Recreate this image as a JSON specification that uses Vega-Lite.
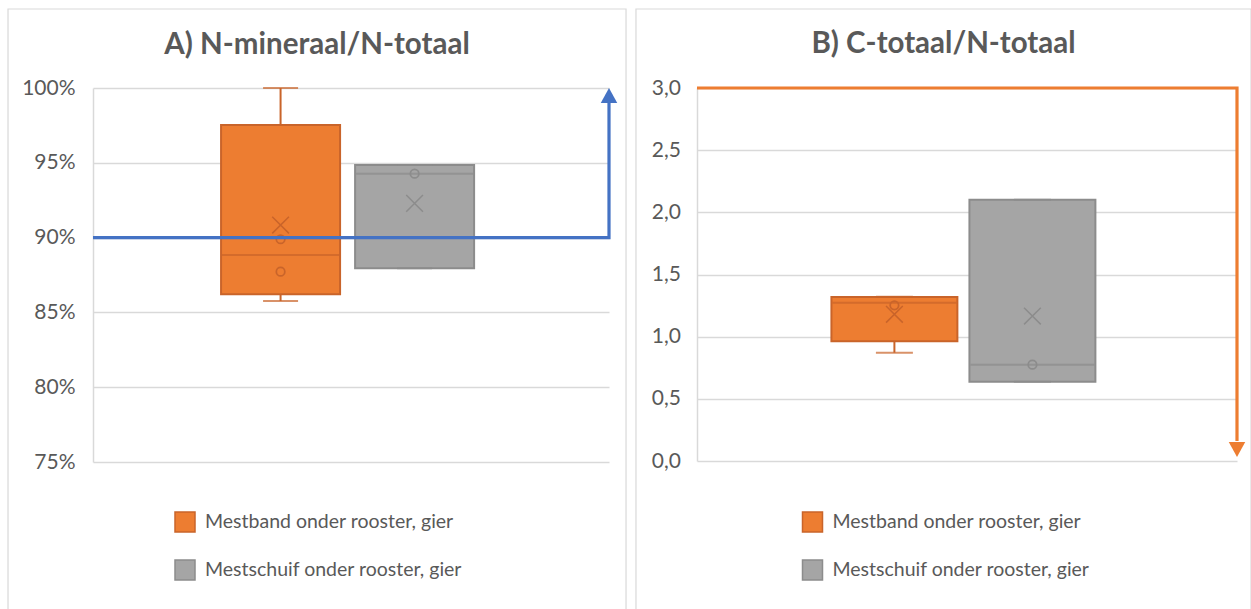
{
  "$schema": "https://vega.github.io/schema/vega-lite/v6.json",
  "padding": {"left": 7, "top": 8, "right": 0, "bottom": 0},
  "background": "white",
  "config": {
    "font": "Lato",
    "view": {"stroke": null},
    "axis": {"labelFont": "Lato", "labelFontSize": 21, "labelColor": "#595959", "gridColor": "#D9D9D9", "gridWidth": 1.5, "domainColor": "#D9D9D9", "domainWidth": 1.5, "ticks": false}
  },
  "datasets": {
    "boxesA": [
      {"s": "Mestband onder rooster, gier", "min": 0.8576, "q1": 0.8621, "median": 0.8884, "q3": 0.9753, "max": 1.0, "mean": 0.9084},
      {"s": "Mestschuif onder rooster, gier", "min": 0.8795, "q1": 0.8795, "median": 0.9427, "q3": 0.9485, "max": 0.9485, "mean": 0.9229}
    ],
    "pointsA": [
      {"s": "Mestband onder rooster, gier", "v": 0.8989},
      {"s": "Mestband onder rooster, gier", "v": 0.8772},
      {"s": "Mestschuif onder rooster, gier", "v": 0.9427}
    ],
    "arrowA": [{"i": 1, "x": 0, "y": 0.9}, {"i": 2, "x": 1, "y": 0.9}, {"i": 3, "x": 1, "y": 0.992}],
    "headA": [{"x": 1, "y": 1.0}],
    "boxesB": [
      {"s": "Mestband onder rooster, gier", "min": 0.871, "q1": 0.963, "median": 1.273, "q3": 1.319, "max": 1.322, "mean": 1.18},
      {"s": "Mestschuif onder rooster, gier", "min": 0.638, "q1": 0.638, "median": 0.775, "q3": 2.102, "max": 2.102, "mean": 1.166}
    ],
    "pointsB": [
      {"s": "Mestband onder rooster, gier", "v": 1.252},
      {"s": "Mestschuif onder rooster, gier", "v": 0.775}
    ],
    "arrowB": [{"i": 1, "x": 0, "y": 3.0}, {"i": 2, "x": 1, "y": 3.0}, {"i": 3, "x": 1, "y": 0.16}],
    "headB": [{"x": 1, "y": 0.032}],
    "one": [{"k": 1}]
  },
  "spacing": 88,
  "bounds": "flush",
  "resolve": {"scale": {"y": "independent", "x": "independent", "fill": "independent", "stroke": "independent", "color": "independent"}, "legend": {"fill": "independent", "stroke": "independent"}},
  "hconcat": [
    {
      "width": 516,
      "height": 374,
      "title": {"text": "A) N-mineraal/N-totaal", "anchor": "middle", "frame": "bounds", "offset": -74.6, "baseline": "alphabetic", "fontSize": 29.5, "fontWeight": "bold", "color": "#595959", "font": "Lato"},
      "resolve": {"scale": {"x": "independent"}},
      "layer": [
        {
          "data": {"name": "one"},
          "mark": {"type": "rect", "fill": "transparent", "stroke": "#D9D9D9", "strokeWidth": 1.2},
          "encoding": {
            "x": {"datum": -0.1647, "type": "quantitative", "scale": {"domain": [0, 1], "nice": false, "zero": false}, "axis": null},
            "x2": {"datum": 1.033},
            "y": {"datum": 0.64, "type": "quantitative", "scale": {"domain": [0.75, 1.0], "nice": false, "zero": false}, "axis": {"values": [0.75, 0.8, 0.85, 0.9, 0.95, 1.0], "format": ".0%", "title": null, "labelPadding": 18, "grid": true}},
            "y2": {"datum": 1.0528}
          }
        },
        {
          "encoding": {
            "x": {"field": "s", "type": "nominal", "axis": null, "scale": {"domain": ["Mestband onder rooster, gier", "Mestschuif onder rooster, gier"], "paddingInner": 0.112, "paddingOuter": 0.981, "align": 0.487}}
          },
          "layer": [
            {
              "data": {"name": "boxesA"},
              "mark": {"type": "bar", "strokeWidth": 2},
              "encoding": {
                "y": {"field": "q1", "type": "quantitative", "title": null, "scale": {"domain": [0.75, 1.0], "nice": false, "zero": false}},
                "y2": {"field": "q3"},
                "fill": {"field": "s", "type": "nominal", "scale": {"domain": ["Mestband onder rooster, gier", "Mestschuif onder rooster, gier"], "range": ["#ED7D31", "#A5A5A5"]}, "legend": {"orient": "none", "legendX": 81, "legendY": 423, "direction": "vertical", "title": null, "symbolType": "square", "symbolSize": 400, "symbolStrokeWidth": 1.5, "labelFontSize": 19.5, "labelColor": "#595959", "labelFont": "Lato", "labelOffset": 9, "rowPadding": 22, "padding": 0, "labelLimit": 400}},
                "stroke": {"field": "s", "type": "nominal", "scale": {"domain": ["Mestband onder rooster, gier", "Mestschuif onder rooster, gier"], "range": ["#C9642A", "#8C8C8C"]}, "legend": {"orient": "none", "legendX": 81, "legendY": 423, "direction": "vertical", "title": null, "symbolType": "square", "symbolSize": 400, "symbolStrokeWidth": 1.5, "labelFontSize": 19.5, "labelColor": "#595959", "labelFont": "Lato", "labelOffset": 9, "rowPadding": 22, "padding": 0, "labelLimit": 400}}
              }
            },
            {
              "data": {"name": "boxesA"},
              "mark": {"type": "rule", "strokeWidth": 2},
              "encoding": {
                "y": {"field": "min", "type": "quantitative", "title": null},
                "y2": {"field": "q1"},
                "color": {"field": "s", "type": "nominal", "scale": {"domain": ["Mestband onder rooster, gier", "Mestschuif onder rooster, gier"], "range": ["#C9642A", "#8C8C8C"]}, "legend": null}
              }
            },
            {
              "data": {"name": "boxesA"},
              "mark": {"type": "rule", "strokeWidth": 2},
              "encoding": {
                "y": {"field": "q3", "type": "quantitative", "title": null},
                "y2": {"field": "max"},
                "color": {"field": "s", "type": "nominal", "legend": null}
              }
            },
            {
              "data": {"name": "boxesA"},
              "mark": {"type": "tick", "size": 35, "thickness": 2, "orient": "horizontal"},
              "encoding": {
                "y": {"field": "min", "type": "quantitative", "title": null},
                "color": {"field": "s", "type": "nominal", "legend": null}
              }
            },
            {
              "data": {"name": "boxesA"},
              "mark": {"type": "tick", "size": 35, "thickness": 2, "orient": "horizontal"},
              "encoding": {
                "y": {"field": "max", "type": "quantitative", "title": null},
                "color": {"field": "s", "type": "nominal", "legend": null}
              }
            },
            {
              "data": {"name": "boxesA"},
              "mark": {"type": "tick", "size": 117, "thickness": 2, "orient": "horizontal"},
              "encoding": {
                "y": {"field": "median", "type": "quantitative", "title": null},
                "color": {"field": "s", "type": "nominal", "legend": null}
              }
            },
            {
              "data": {"name": "pointsA"},
              "mark": {"type": "point", "shape": "circle", "size": 72, "strokeWidth": 1.75, "filled": false, "opacity": 1},
              "encoding": {
                "y": {"field": "v", "type": "quantitative", "title": null},
                "color": {"field": "s", "type": "nominal", "legend": null}
              }
            },
            {
              "data": {"name": "boxesA"},
              "mark": {"type": "point", "shape": "M-1,-1L1,1M-1,1L1,-1", "size": 280, "strokeWidth": 1.5, "filled": false, "opacity": 1},
              "encoding": {
                "y": {"field": "mean", "type": "quantitative", "title": null},
                "color": {"field": "s", "type": "nominal", "legend": null}
              }
            }
          ]
        },
        {
          "encoding": {
            "x": {"field": "x", "type": "quantitative", "scale": {"domain": [0, 1], "nice": false, "zero": false}, "axis": null},
            "y": {"field": "y", "type": "quantitative", "title": null}
          },
          "layer": [
            {
              "data": {"name": "arrowA"},
              "mark": {"type": "line", "color": "#4472C4", "strokeWidth": 3.2},
              "encoding": {"order": {"field": "i", "type": "quantitative"}}
            },
            {
              "data": {"name": "headA"},
              "mark": {"type": "point", "shape": "M0,0L0.55,1L-0.55,1Z", "size": 900, "filled": true, "color": "#4472C4", "opacity": 1, "strokeWidth": 0},
              "encoding": {}
            }
          ]
        }
      ]
    },
    {
      "width": 540,
      "height": 373,
      "title": {"text": "B) C-totaal/N-totaal", "anchor": "middle", "frame": "bounds", "offset": -74.6, "baseline": "alphabetic", "fontSize": 29.5, "fontWeight": "bold", "color": "#595959", "font": "Lato"},
      "resolve": {"scale": {"x": "independent"}},
      "layer": [
        {
          "data": {"name": "one"},
          "mark": {"type": "rect", "fill": "transparent", "stroke": "#D9D9D9", "strokeWidth": 1.2},
          "encoding": {
            "x": {"datum": -0.113, "type": "quantitative", "scale": {"domain": [0, 1], "nice": false, "zero": false}, "axis": null},
            "x2": {"datum": 1.026},
            "y": {"datum": -1.3, "type": "quantitative", "scale": {"domain": [0, 3], "nice": false, "zero": false}, "axis": {"values": [0, 0.5, 1, 1.5, 2, 2.5, 3], "labelExpr": "replace(format(datum.value, '.1f'), '.', ',')", "title": null, "labelPadding": 16.5, "grid": true}},
            "y2": {"datum": 3.6354}
          }
        },
        {
          "encoding": {
            "x": {"field": "s", "type": "nominal", "axis": null, "scale": {"domain": ["Mestband onder rooster, gier", "Mestschuif onder rooster, gier"], "paddingInner": 0.0873, "paddingOuter": 1.007, "align": 0.487}}
          },
          "layer": [
            {
              "data": {"name": "boxesB"},
              "mark": {"type": "bar", "strokeWidth": 2},
              "encoding": {
                "y": {"field": "q1", "type": "quantitative", "title": null, "scale": {"domain": [0, 3], "nice": false, "zero": false}},
                "y2": {"field": "q3"},
                "fill": {"field": "s", "type": "nominal", "scale": {"domain": ["Mestband onder rooster, gier", "Mestschuif onder rooster, gier"], "range": ["#ED7D31", "#A5A5A5"]}, "legend": {"orient": "none", "legendX": 104.5, "legendY": 423, "direction": "vertical", "title": null, "symbolType": "square", "symbolSize": 400, "symbolStrokeWidth": 1.5, "labelFontSize": 19.5, "labelColor": "#595959", "labelFont": "Lato", "labelOffset": 9, "rowPadding": 22, "padding": 0, "labelLimit": 400}},
                "stroke": {"field": "s", "type": "nominal", "scale": {"domain": ["Mestband onder rooster, gier", "Mestschuif onder rooster, gier"], "range": ["#C9642A", "#8C8C8C"]}, "legend": {"orient": "none", "legendX": 104.5, "legendY": 423, "direction": "vertical", "title": null, "symbolType": "square", "symbolSize": 400, "symbolStrokeWidth": 1.5, "labelFontSize": 19.5, "labelColor": "#595959", "labelFont": "Lato", "labelOffset": 9, "rowPadding": 22, "padding": 0, "labelLimit": 400}}
              }
            },
            {
              "data": {"name": "boxesB"},
              "mark": {"type": "rule", "strokeWidth": 2},
              "encoding": {
                "y": {"field": "min", "type": "quantitative", "title": null},
                "y2": {"field": "q1"},
                "color": {"field": "s", "type": "nominal", "scale": {"domain": ["Mestband onder rooster, gier", "Mestschuif onder rooster, gier"], "range": ["#C9642A", "#8C8C8C"]}, "legend": null}
              }
            },
            {
              "data": {"name": "boxesB"},
              "mark": {"type": "rule", "strokeWidth": 2},
              "encoding": {
                "y": {"field": "q3", "type": "quantitative", "title": null},
                "y2": {"field": "max"},
                "color": {"field": "s", "type": "nominal", "legend": null}
              }
            },
            {
              "data": {"name": "boxesB"},
              "mark": {"type": "tick", "size": 37, "thickness": 2, "orient": "horizontal"},
              "encoding": {
                "y": {"field": "min", "type": "quantitative", "title": null},
                "color": {"field": "s", "type": "nominal", "legend": null}
              }
            },
            {
              "data": {"name": "boxesB"},
              "mark": {"type": "tick", "size": 37, "thickness": 2, "orient": "horizontal"},
              "encoding": {
                "y": {"field": "max", "type": "quantitative", "title": null},
                "color": {"field": "s", "type": "nominal", "legend": null}
              }
            },
            {
              "data": {"name": "boxesB"},
              "mark": {"type": "tick", "size": 124, "thickness": 2, "orient": "horizontal"},
              "encoding": {
                "y": {"field": "median", "type": "quantitative", "title": null},
                "color": {"field": "s", "type": "nominal", "legend": null}
              }
            },
            {
              "data": {"name": "pointsB"},
              "mark": {"type": "point", "shape": "circle", "size": 72, "strokeWidth": 1.75, "filled": false, "opacity": 1},
              "encoding": {
                "y": {"field": "v", "type": "quantitative", "title": null},
                "color": {"field": "s", "type": "nominal", "legend": null}
              }
            },
            {
              "data": {"name": "boxesB"},
              "mark": {"type": "point", "shape": "M-1,-1L1,1M-1,1L1,-1", "size": 280, "strokeWidth": 1.5, "filled": false, "opacity": 1},
              "encoding": {
                "y": {"field": "mean", "type": "quantitative", "title": null},
                "color": {"field": "s", "type": "nominal", "legend": null}
              }
            }
          ]
        },
        {
          "encoding": {
            "x": {"field": "x", "type": "quantitative", "scale": {"domain": [0, 1], "nice": false, "zero": false}, "axis": null},
            "y": {"field": "y", "type": "quantitative", "title": null}
          },
          "layer": [
            {
              "data": {"name": "arrowB"},
              "mark": {"type": "line", "color": "#ED7D31", "strokeWidth": 3.2},
              "encoding": {"order": {"field": "i", "type": "quantitative"}}
            },
            {
              "data": {"name": "headB"},
              "mark": {"type": "point", "shape": "M0,0L0.55,-1L-0.55,-1Z", "size": 900, "filled": true, "color": "#ED7D31", "opacity": 1, "strokeWidth": 0},
              "encoding": {}
            }
          ]
        }
      ]
    }
  ]
}
